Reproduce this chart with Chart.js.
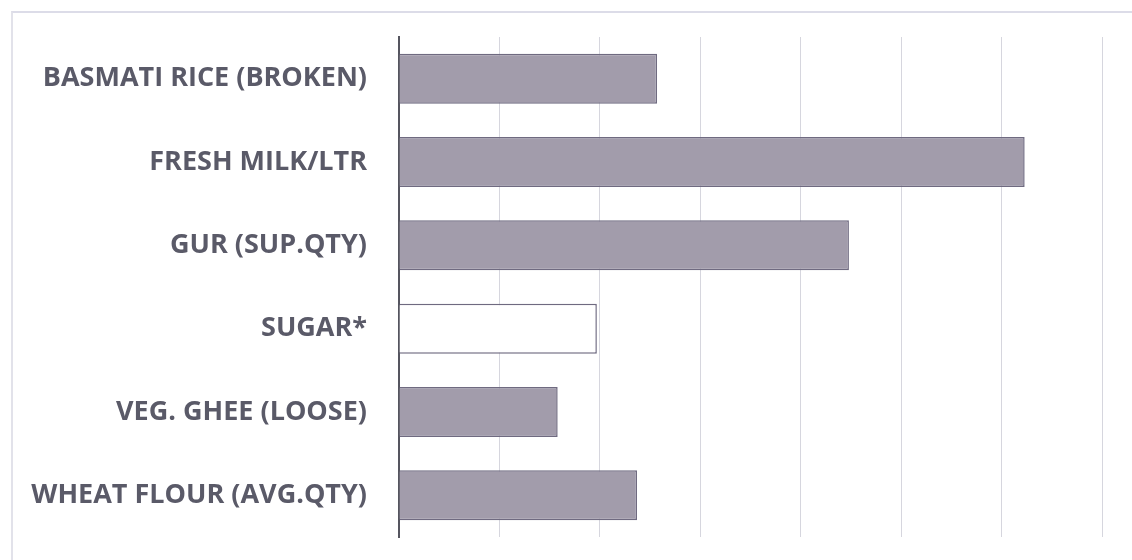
<!DOCTYPE html>
<html>
<head>
<meta charset="utf-8">
<script src="https://cdn.jsdelivr.net/npm/chart.js@4.4.0/dist/chart.umd.min.js"></script>
<style>
  html, body { margin: 0; padding: 0; background: #fff; }
  #frame {
    position: absolute; left: 11px; top: 11px; width: 1130px; height: 560px;
    border-top: 2px solid #dcdce8; border-left: 2px solid #e2e2ea;
  }
  #wrap { position: absolute; left: 0; top: 0; width: 1132px; height: 560px; }
</style>
</head>
<body>
<div id="frame"></div>
<div id="wrap"><canvas id="grafico"></canvas></div>
<script>
// categorias e valores
const categorias = [
  "BASMATI RICE (BROKEN)",
  "FRESH MILK/LTR",
  "GUR (SUP.QTY)",
  "SUGAR*",
  "VEG. GHEE (LOOSE)",
  "WHEAT FLOUR (AVG.QTY)"
]
const valores = [2.57, 6.23, 4.48, 1.97, 1.58, 2.37]
const eixoMax = 7

const corBarra = "#a29cab"
const corBorda = "#6f6a80"

let chart = new Chart(document.getElementById("grafico"), {
  type: "bar",
  data: {
    labels: categorias,
    datasets: [{
      data: valores,
      // barra vazada para o item com asterisco
      backgroundColor: ctx => categorias[ctx.dataIndex] === "SUGAR*" ? "#ffffff" : corBarra,
      borderColor: corBorda,
      borderWidth: 1.5,
      barPercentage: 0.6,
      categoryPercentage: 1.0
    }]
  },
  options: {
    indexAxis: "y",
    responsive: true,
    maintainAspectRatio: false,
    animation: false,
    layout: { padding: { top: 37, right: 30, bottom: 23, left: 0 } },
    plugins: { legend: { display: false }, tooltip: { enabled: false } },
    scales: {
      x: {
        min: 0, max: eixoMax,
        ticks: { display: false, stepSize: 1 },
        grid: { color: "#d6d6de", lineWidth: 1, drawTicks: false },
        border: { display: false },
        afterFit: s => { s.height = 0 }
      },
      y: {
        grid: { display: false, drawTicks: false },
        border: { color: "#55555f", width: 2 },
        ticks: {
          color: "#5a5a68",
          padding: 32,
          font: { family: "'Open Sans'", size: 27, weight: "700" }
        },
        afterFit: s => { s.width = 399; s.paddingTop = 0; s.paddingBottom = 0 }
      }
    }
  }
})
</script>
</body>
</html>
